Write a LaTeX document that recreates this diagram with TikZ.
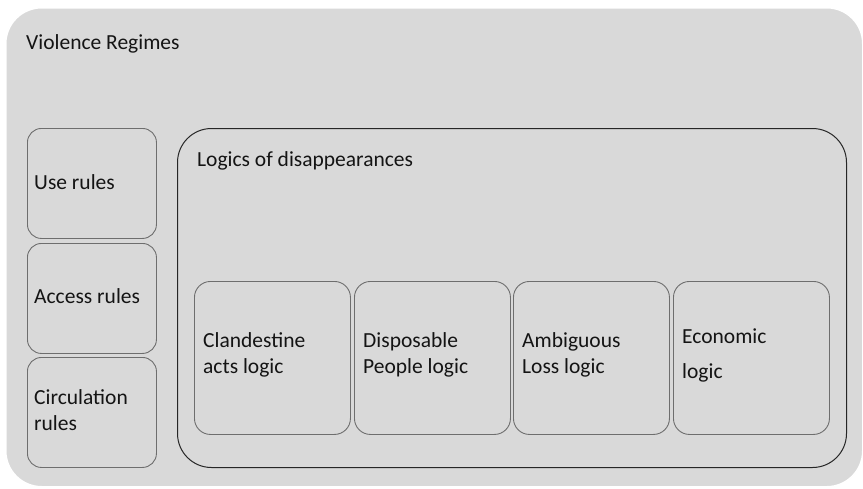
\documentclass[tikz,border=0pt]{standalone}
\usepackage{fontspec}
\setmainfont{Carlito}
\definecolor{panel}{RGB}{217,217,217}
\definecolor{rulegray}{RGB}{110,110,110}
\definecolor{ink}{RGB}{20,20,20}
\begin{document}
\begin{tikzpicture}[x=1pt,y=-1pt,
  txt/.style={font=\fontsize{21.5}{26}\selectfont, text=ink},
  outerbox/.style={draw=white, line width=1.5pt, fill=panel, rounded corners=36pt, anchor=north west, inner sep=0pt},
  rulebox/.style={draw=rulegray, line width=0.9pt, fill=panel, rounded corners=14pt, anchor=north west,
    minimum width=129pt, minimum height=110pt, inner sep=0pt},
  bigbox/.style={draw=black!85, line width=1pt, rounded corners=34pt, anchor=north west, inner sep=0pt},
  logicbox/.style={draw=rulegray, line width=0.9pt, fill=panel, rounded corners=16pt, anchor=north west,
    minimum width=156pt, minimum height=153pt, inner sep=0pt},
  label/.style={txt, anchor=west, inner sep=0pt}
]
\useasboundingbox (0,0) rectangle (863,488);
\fill[white] (0,0) rectangle (863,488);
\node[outerbox, minimum width=857pt, minimum height=479pt] (regimes) at (5,7) {};
\node[label] (regimestitle) at (26,44) {Violence Regimes};

\node[rulebox] (use) at (27,128) {};
\node[label] (uset) at (34,182) {Use rules};
\node[rulebox] (access) at (27,243) {};
\node[label] (accesst) at (34,296) {Access rules};
\node[rulebox] (circ) at (27,357) {};
\node[label, align=left] (circt) at (34,410) {Circulation\\rules};

\node[bigbox, minimum width=669pt, minimum height=339pt] (logics) at (177,128) {};
\node[label] (logicstitle) at (197,161) {Logics of disappearances};

\node[logicbox] (clan) at (194,281) {};
\node[label, align=left] (clant) at (203,355) {Clandestine\\acts logic};
\node[logicbox] (disp) at (354,281) {};
\node[label, align=left] (dispt) at (363,355) {Disposable\\People logic};
\node[logicbox] (amb) at (513,281) {};
\node[label, align=left] (ambt) at (522,355) {Ambiguous\\Loss logic};
\node[logicbox] (eco) at (673,281) {};
\node[label, align=left] (ecot) at (682,355) {Economic\\[9pt]logic};
\end{tikzpicture}
\end{document}
